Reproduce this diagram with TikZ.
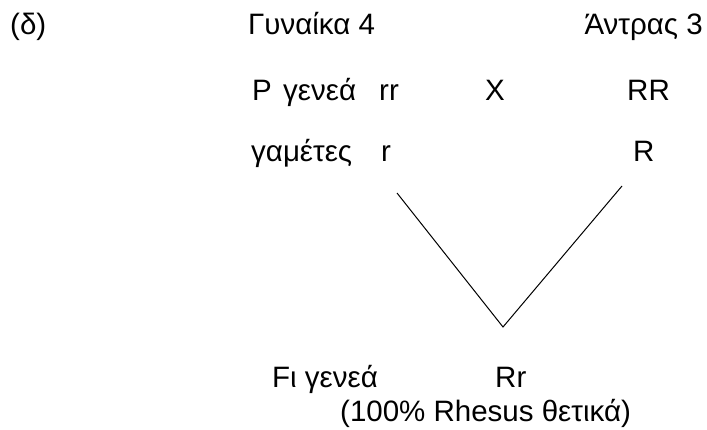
\documentclass[tikz,border=0pt]{standalone}
\usepackage{fontspec}
\setmainfont{Liberation Sans}
\begin{document}
\begin{tikzpicture}[x=1pt,y=-1pt,
  lbl/.style={anchor=base west,inner sep=0pt,font=\fontsize{29.5}{34}\selectfont},
  cross/.style={line width=1pt,black}]
\useasboundingbox (0,0) rectangle (707,430);
% header row
\node[lbl] (part) at (10,35) {(δ)};
\node[lbl] (woman) at (248,35) {Γυναίκα 4};
\node[lbl,anchor=base east] (man) at (703,35) {Άντρας 3};
% parental generation
\node[lbl] (pgen) at (252,101) {P};
\node[lbl] (pgen2) at (283,101) {γενεά};
\node[lbl] (prr) at (379,101) {rr};
\node[lbl] (px) at (485,101) {X};
\node[lbl] (pRR) at (627,101) {RR};
% gametes
\node[lbl] (gam) at (251,162) {γαμέτες};
\node[lbl] (gr) at (381,162) {r};
\node[lbl] (gR) at (633,162) {R};
% crossing lines
\coordinate (la) at (397,193);
\coordinate (lb) at (622,186);
\coordinate (meet) at (503,327);
\draw[cross] (la) -- (meet) -- (lb);
% offspring
\node[lbl] (fgen) at (272,388) {Fι γενεά};
\node[lbl] (frr) at (495,388) {Rr};
\node[lbl] (fpc) at (340,421) {(100\% Rhesus θετικά)};
\end{tikzpicture}
\end{document}
